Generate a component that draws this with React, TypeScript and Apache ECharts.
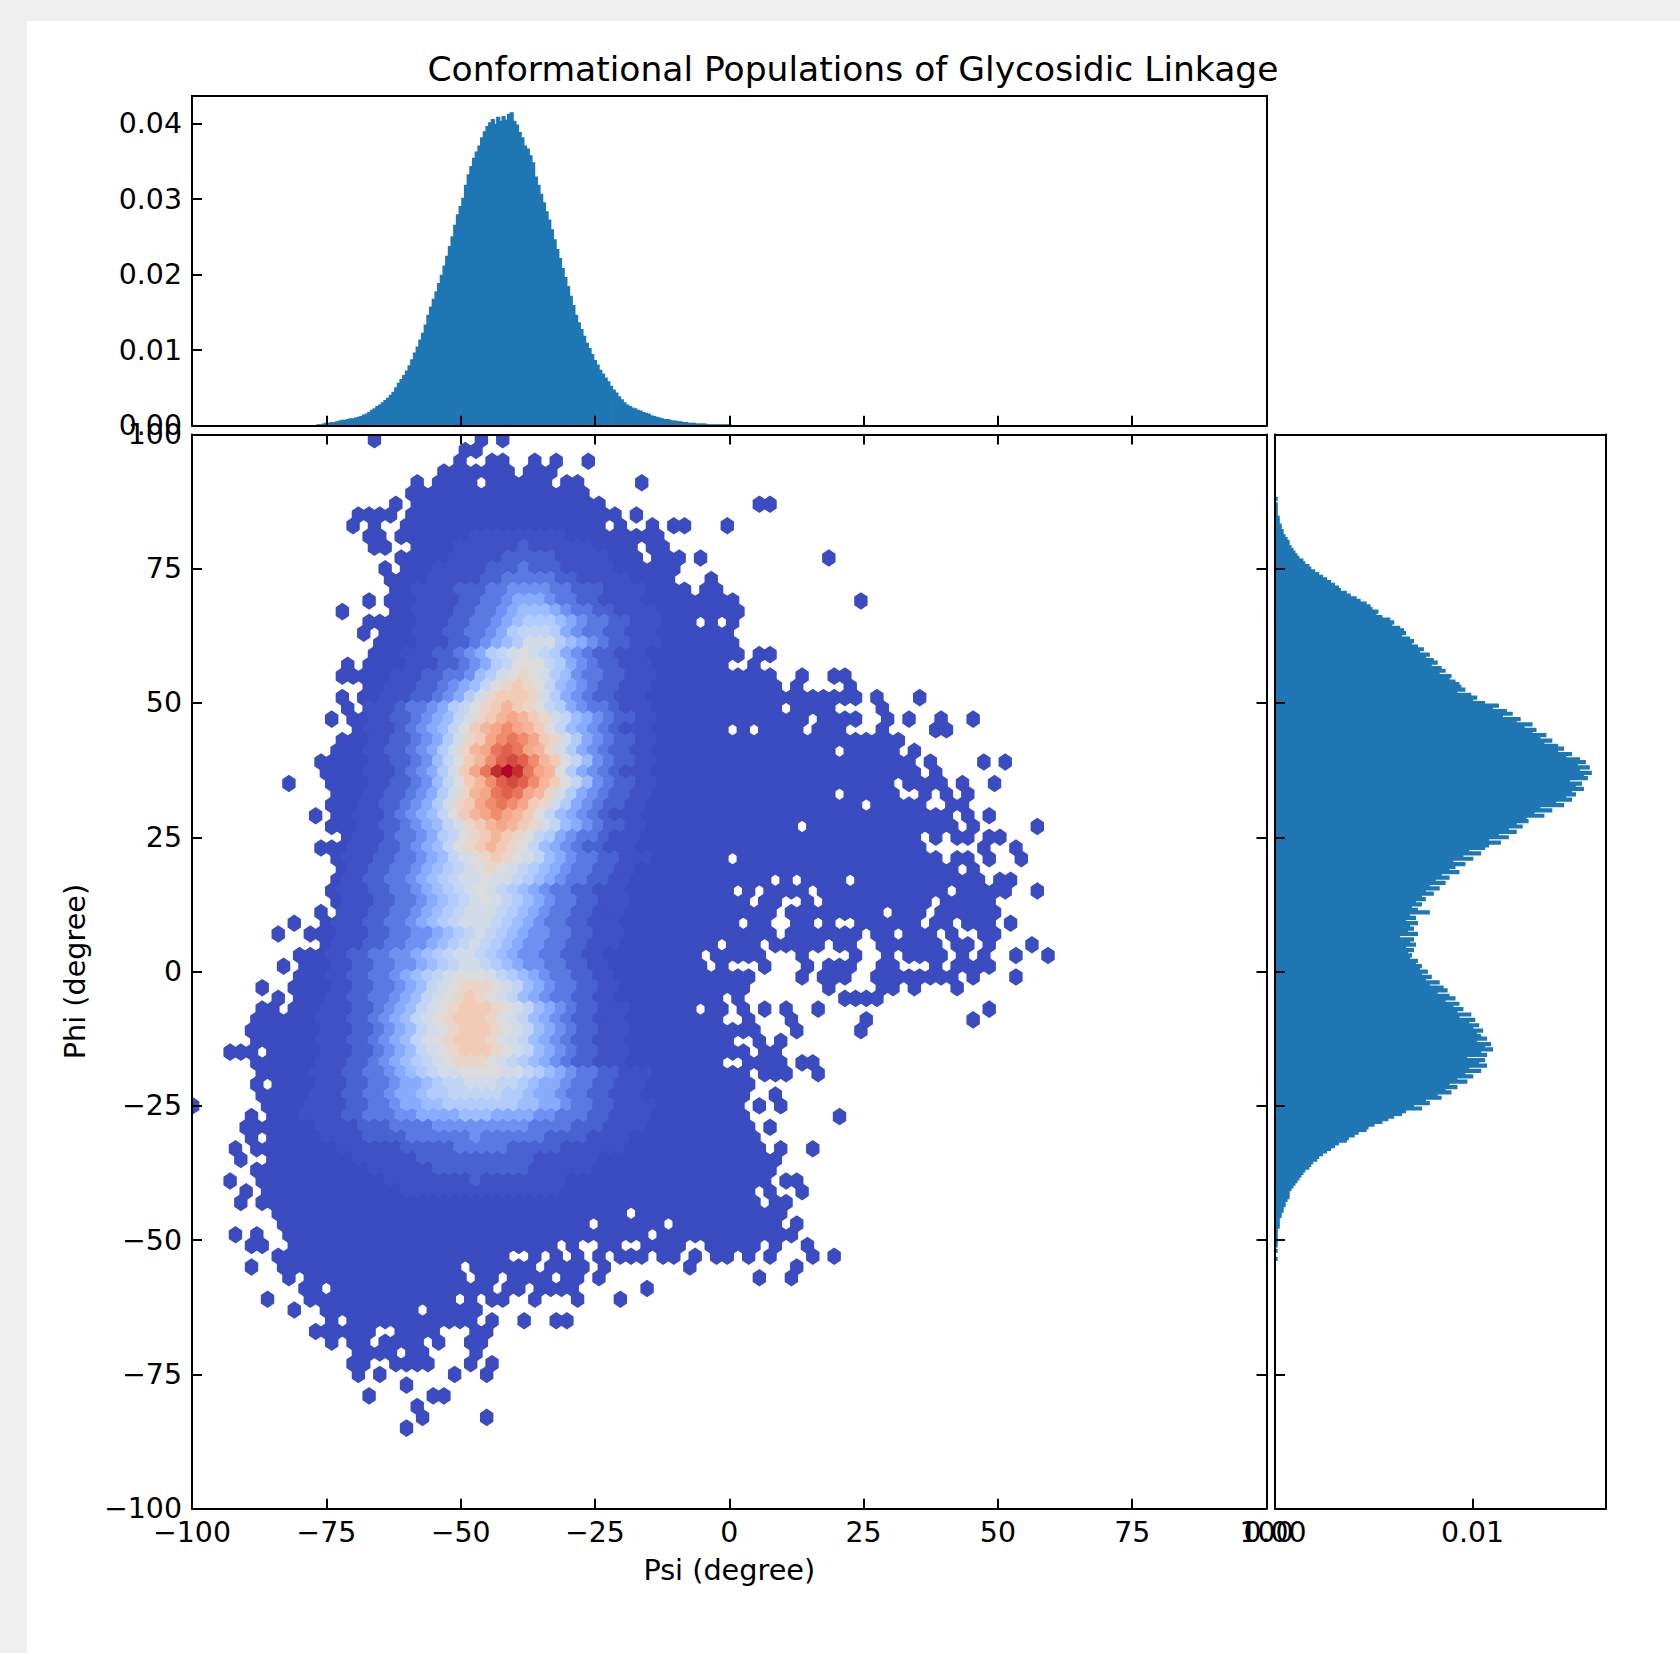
import React, { useEffect, useRef } from "react";
import * as echarts from "echarts";

const TITLE = "Conformational Populations of Glycosidic Linkage";
const FONT = "DejaVu Sans";
const BAR_COLOR = "#1f77b4";

const angleTicks = [-100, -75, -50, -25, 0, 25, 50, 75, 100];
const topHistTicks = [0, 0.01, 0.02, 0.03, 0.04];
const rightHistTicks = [0, 0.01];

// occupied hexagons: [phi row, first lattice column, last lattice column, ...], step 2 inside a span
const occupiedRows: number[][] = [
  [99, -66, -66, -46, -46, -42, -42],
  [97, -49, -47],
  [95, -50, -50, -44, -42, -36, -36, -32, -32, -26, -26],
  [93, -53, -41, -37, -33],
  [91, -58, -58, -54, -48, -44, -34, -30, -28, -16, -16],
  [89, -59, -27],
  [87, -62, -62, -58, -24, 6, 8],
  [85, -69, -63, -59, -21, -17, -17],
  [83, -70, -70, -66, -66, -60, -24, -20, -20, -14, -14, -10, -8, 0, 0],
  [81, -67, -65, -61, -13],
  [79, -66, -64, -58, -18, -14, -12],
  [77, -61, -17, -13, -9, -5, -5, 19, 19],
  [75, -64, -64, -60, -10],
  [73, -63, -11, -3, -3],
  [71, -62, -8, -4, -2],
  [69, -67, -67, -63, 1, 25, 25],
  [67, -72, -72, -62, 2],
  [65, -67, -7, -3, -3, 1, 1],
  [63, -68, -68, -64, 0],
  [61, -65, 1],
  [59, -66, 2, 6, 8],
  [57, -71, -71, -67, -1, 5, 5],
  [55, -72, 8, 14, 14, 20, 22],
  [53, -67, 9, 13, 13, 23, 23],
  [51, -72, -72, -68, 24, 28, 28, 36, 36],
  [49, -71, -71, -67, 9, 13, 19, 29, 29],
  [47, -74, -74, -70, 14, 18, 24, 30, 30, 34, 34, 40, 40, 46, 46],
  [45, -69, -1, 3, 3, 7, 13, 17, 21, 29, 29, 39, 41],
  [43, -72, 32],
  [41, -73, 19, 23, 31, 35, 35],
  [39, -76, 34, 38, 38, 48, 48, 52, 52],
  [37, -75, 35, 39, 39],
  [35, -82, -82, -74, 30, 34, 40, 44, 44, 50, 50],
  [33, -73, 19, 23, 31, 37, 37, 41, 41, 45, 45],
  [31, -74, 24, 28, 36, 42, 44],
  [29, -77, -77, -73, 41, 45, 45, 49, 49],
  [27, -74, 12, 16, 42, 46, 46, 58, 58],
  [25, -71, 35, 39, 39, 43, 45, 49, 51],
  [23, -76, 36, 48, 48, 54, 54],
  [21, -73, -1, 3, 39, 43, 45, 49, 49, 55, 55],
  [19, -72, 42, 46, 46],
  [17, -73, 7, 11, 11, 15, 21, 25, 47, 51, 53],
  [15, -74, 0, 4, 4, 8, 14, 18, 40, 44, 52, 58, 58],
  [13, -73, 3, 7, 9, 15, 15, 19, 37, 41, 49],
  [11, -76, -76, -72, 8, 12, 28, 32, 36, 40, 50],
  [9, -81, -81, -75, 1, 5, 7, 13, 15, 19, 19, 25, 35, 39, 41, 45, 49, 53, 53],
  [7, -84, -84, -78, 8, 12, 24, 28, 30, 34, 38, 42, 42, 48, 50],
  [5, -75, -3, 1, 5, 9, 17, 21, 23, 29, 39, 43, 45, 49, 49, 57, 57],
  [3, -80, -6, -2, 6, 14, 14, 24, 24, 30, 30, 34, 40, 44, 44, 48, 48, 54, 54, 60, 60],
  [1, -83, -83, -79, -5, -1, -1, 7, 7, 15, 15, 19, 23, 29, 31, 39, 39, 43, 49],
  [-1, -80, 4, 14, 14, 18, 22, 28, 42, 46, 46, 54, 54],
  [-3, -87, -87, -81, 3, 19, 19, 29, 31, 35, 35, 43, 43],
  [-5, -84, -84, -80, -2, 2, 2, 22, 28],
  [-7, -87, -85, -81, -7, -3, -1, 3, 3, 7, 7, 11, 11, 17, 17, 49, 49],
  [-9, -88, -2, 4, 4, 12, 12, 26, 26, 46, 46],
  [-11, -89, 5, 13, 13, 25, 25],
  [-13, -88, 0, 6, 6, 10, 10],
  [-15, -93, -89, -85, 3, 7, 9],
  [-17, -88, -2, 4, 10, 14, 16],
  [-19, -87, 3, 7, 11, 17, 17],
  [-21, -88, -88, -84, 4],
  [-23, -87, 3, 9, 9],
  [-25, -100, -100, -86, 2, 6, 6, 10, 10],
  [-27, -89, -89, -85, 3, 21, 21],
  [-29, -90, 4, 8, 8],
  [-31, -89, -89, -85, 5],
  [-33, -92, -92, -88, 6, 10, 10, 16, 16],
  [-35, -91, -91, -85, 9],
  [-37, -88, 8],
  [-39, -93, -93, -87, 7, 11, 13],
  [-41, -90, -90, -86, 4, 8, 8, 14, 14],
  [-43, -91, -91, -87, 5, 9, 11],
  [-45, -84, -20, -16, 10],
  [-47, -83, -27, -23, -13, -9, 9, 13, 13],
  [-49, -92, -92, -88, -88, -82, -16, -12, 12],
  [-51, -89, -87, -81, -33, -29, -29, -23, -21, -15, -9, -3, 5, 9, 9, 15, 15],
  [-53, -84, -42, -36, -36, -32, -32, -28, -28, -24, -24, -20, -16, -12, -10, -6, -6, -2, 0, 4, 4, 8, 8, 16, 16, 20, 20],
  [-55, -89, -89, -83, -51, -47, -37, -33, -27, -23, -23, -7, -7, 13, 13],
  [-57, -82, -82, -78, -50, -46, -44, -40, -34, -30, -28, -24, -24, 6, 6, 12, 12],
  [-59, -79, -77, -73, -45, -41, -39, -35, -29, -15, -15],
  [-61, -86, -86, -78, -52, -48, -48, -44, -42, -36, -36, -28, -28, -20, -20],
  [-63, -81, -81, -75, -59, -55, -47],
  [-65, -74, -74, -70, -48, -44, -44, -38, -38, -32, -30],
  [-67, -77, -67, -61, -55, -47, -45],
  [-69, -74, -74, -70, -68, -64, -58, -54, -54, -48, -46],
  [-71, -69, -63, -59, -57, -47, -47],
  [-73, -70, -68, -62, -56, -48, -48, -44, -44],
  [-75, -69, -69, -65, -65, -51, -51, -45, -45],
  [-77, -60, -60],
  [-79, -67, -67, -55, -53],
  [-81, -58, -58],
  [-83, -57, -57, -45, -45],
  [-85, -60, -60],
];

// density levels (0..k) of the brighter cells: [phi row, first lattice column, one character per cell]
const densityRows: [number, number, string][] = [
  [81, -47, "111111111"],
  [79, -50, "1111112111111"],
  [77, -51, "111112222211111"],
  [75, -54, "11111222322211111"],
  [73, -55, "1111122333332211111"],
  [71, -58, "1111222334444332221111"],
  [69, -57, "111122334555433221111"],
  [67, -58, "11112233456665433221111"],
  [65, -57, "11122334567776543322111"],
  [63, -58, "11122334578887543322111"],
  [61, -57, "11122345679997654322111"],
  [59, -60, "11122345789a98754322111"],
  [57, -59, "1112234578aaa8754322111"],
  [55, -62, "11122334679aba97643322111"],
  [53, -63, "1112234568abcba8654322111"],
  [51, -64, "1112234579bcccb9754322111"],
  [49, -67, "1112334578abcdcba8754332111"],
  [47, -66, "1122345689bcdedcb9865432211"],
  [45, -67, "111234568acdefedca865432111"],
  [43, -66, "112234579bcefgfecb975432211"],
  [41, -67, "112234579bdeghgedb975432211"],
  [39, -66, "11223468acdfhihfdca86432211"],
  [37, -67, "111234579cegjkjgeda75432111"],
  [35, -66, "11223468acdfhihfdca86432211"],
  [33, -67, "112234579bdeghgedb975432211"],
  [31, -68, "112234579bcefgfecb975432211"],
  [29, -69, "111234568acdefedca865432111"],
  [27, -68, "1122345689bcdedcb9865432211"],
  [25, -69, "1112334578abcdcba8754332111"],
  [23, -70, "1112234568abcdcba8654322111"],
  [21, -71, "111223345689abcba986543322111"],
  [19, -70, "112233456789aba987654332211"],
  [17, -71, "1122334567899a9987654332211"],
  [15, -72, "1112233456789a9876543322111"],
  [13, -71, "1112233456789a9876543322111"],
  [11, -72, "111223345678999876543322111"],
  [9, -73, "111223345678999876543322111"],
  [7, -72, "111223344567898765443322111"],
  [5, -73, "111223344567898765443322111"],
  [3, -74, "112233445678998765443322 11".replace(" ", "")],
  [1, -73, "112233445678998765443322 11".replace(" ", "")],
  [-1, -74, "112233456789aaa987654332211"],
  [-3, -73, "11223345689abbba98654332211"],
  [-5, -74, "11223345689abcba98654332211"],
  [-7, -75, "11122345689abcccba98654322111"],
  [-9, -76, "11122345689abcccba98654322111"],
  [-11, -75, "11122345689abcccba98654322111"],
  [-13, -76, "11122345689abcccba98654322111"],
  [-15, -75, "11122345689abcccba98654322111"],
  [-17, -76, "111223456789abbba987654322111"],
  [-19, -77, "11122334567899aaaa99876543322111"],
  [-21, -76, "1112233455678899988765543322111"],
  [-23, -77, "1112233455677888887765543322111"],
  [-25, -78, "111122334556677777776655433221111"],
  [-27, -79, "111122333445555666555544333221111"],
  [-29, -76, "1111222333344444444433332221111"],
  [-31, -75, "11112222333333433333322221111"],
  [-33, -72, "111111222223333322222111111"],
  [-35, -69, "11111122222222222111111"],
  [-37, -66, "111111222222222111111"],
  [-39, -63, "11111111211111111"],
  [-41, -60, "111111111111111"],
];

const levelColors = [
  "#3b4cc0", "#3f52c5", "#4962d2", "#5a79e3", "#6e91f2", "#88abfd", "#9dbdff",
  "#b2ccfb", "#c3d5f4", "#d2dbe8", "#dddcdc", "#ead5c9", "#f2cbb7", "#f5b59a",
  "#f4a688", "#f08b6e", "#e8765c", "#de614d", "#d24b40", "#c32e31", "#b40426",
];

// Psi histogram, in 1e-4 density units, bins of 0.5 degree starting at -80
const psiHistStart = -80;
const psiHistValues = [
  0, 0, 0, 0, 0, 0, 0, 1, 1, 2, 3,
  3, 4, 4, 5, 6, 7, 7, 8, 9,
  9, 10, 11, 12, 14, 15, 17, 20, 22, 25,
  27, 30, 33, 36, 40, 44, 50, 56, 61, 66,
  72, 79, 87, 96, 104, 113, 122, 133, 146, 157,
  167, 177, 188, 199, 211, 224, 237, 250, 265, 279,
  290, 301, 318, 332, 343, 354, 362, 370, 381, 389,
  396, 401, 405, 399, 408, 403, 409, 404, 412, 414,
  403, 398, 388, 381, 370, 366, 357, 348, 329, 318,
  306, 295, 283, 272, 259, 246, 233, 221, 208, 196,
  184, 171, 159, 146, 136, 127, 118, 109, 102, 94,
  86, 80, 73, 68, 63, 58, 52, 47, 43, 38,
  34, 30, 27, 25, 23, 22, 20, 19, 17, 16,
  15, 13, 12, 11, 10, 9, 8, 8, 7, 6,
  6, 5, 5, 4, 4, 3, 3, 3, 2, 2,
  2, 2, 1, 1, 1, 1, 1, 1, 1, 1,
  1, 0, 0, 0, 0,
];

// Phi histogram, in 1e-4 density units, bins of 0.5 degree going down from 88
const phiHistStart = 88;
const phiHistValues = [
  1, 0, 1, 1, 1, 1, 1, 2, 2, 2,
  3, 3, 4, 4, 5, 6, 7, 7, 8, 9,
  10, 11, 12, 14, 15, 17, 18, 20, 22, 24,
  26, 28, 30, 32, 33, 36, 38, 41, 43, 46,
  48, 49, 52, 51, 54, 58, 60, 59, 63, 65,
  66, 64, 68, 70, 69, 72, 75, 73, 78, 76,
  80, 82, 79, 84, 86, 83, 89, 88, 91, 93,
  94, 96, 92, 99, 102, 100, 106, 113, 110, 117,
  120, 115, 124, 122, 130, 126, 132, 130, 137, 134,
  140, 136, 143, 146, 143, 150, 147, 154, 157, 153,
  159, 154, 160, 156, 158, 149, 155, 152, 156, 150,
  152, 147, 150, 142, 146, 134, 140, 131, 136, 127,
  128, 122, 125, 118, 122, 113, 118, 108, 114, 108,
  106, 98, 104, 95, 100, 90, 96, 91, 88, 93,
  84, 88, 81, 86, 78, 83, 76, 80, 74, 76,
  71, 74, 69, 72, 78, 68, 71, 66, 72, 68,
  70, 67, 72, 63, 70, 68, 71, 66, 70, 67,
  69, 68, 72, 71, 74, 73, 77, 74, 79, 76,
  83, 78, 85, 87, 82, 88, 91, 86, 93, 90,
  95, 92, 99, 93, 101, 98, 103, 100, 105, 102,
  104, 107, 102, 109, 106, 110, 104, 107, 97, 106,
  103, 107, 98, 104, 96, 100, 92, 97, 88, 92,
  86, 89, 82, 84, 76, 78, 70, 74, 66, 64,
  60, 57, 54, 50, 47, 46, 42, 40, 37, 36,
  32, 30, 28, 26, 24, 22, 21, 19, 18, 17,
  15, 14, 13, 12, 11, 10, 9, 8, 7, 7,
  7, 6, 5, 5, 4, 4, 3, 3, 2, 2,
  2, 2, 1, 1, 1, 1, 1, 1, 1, 0,
  1, 0, 0, 1, 0,
];

const BIN = 0.5;
const HEX_DX = 0.995;
const LEVEL_CHARS = "0123456789abcdefghijk";

function buildHexData() {
  const levels = new Map<string, number>();
  for (const [row, start, text] of densityRows) {
    for (let i = 0; i < text.length; i++) {
      levels.set(row + ":" + (start + i * 2), LEVEL_CHARS.indexOf(text[i]));
    }
  }
  const out: number[][] = [];
  for (const entry of occupiedRows) {
    const row = entry[0];
    for (let s = 1; s < entry.length; s += 2) {
      for (let n = entry[s]; n <= entry[s + 1]; n += 2) {
        out.push([n * HEX_DX - 0.37, row, levels.get(row + ":" + n) ?? 0]);
      }
    }
  }
  return out;
}

const fmtSigned = (v: number) => (v < 0 ? "\u2212" + Math.abs(v) : String(v));
const fmt2 = (v: number) => v.toFixed(2);

const LINE = { show: true, onZero: false, lineStyle: { color: "#000", width: 2 } };
const LABEL = { color: "#000", fontSize: 28.4, fontFamily: FONT, margin: 10, hideOverlap: false, showMinLabel: true, showMaxLabel: true };
const NAME_STYLE = { color: "#000", fontSize: 28.7, fontFamily: FONT };

function axis(gridIndex: number, position: string, min: number, max: number, ticks: number[] | null, labels: boolean, fmt?: (v: number) => string, extra: any = {}) {
  return {
    type: "value",
    gridIndex,
    position,
    min,
    max,
    z: 10,
    splitLine: { show: false },
    minorTick: { show: false },
    axisLine: LINE,
    axisTick: ticks
      ? { show: true, inside: true, length: 10, lineStyle: { color: "#000", width: 2 }, customValues: ticks }
      : { show: false },
    axisLabel: labels ? { ...LABEL, formatter: fmt, customValues: ticks } : { show: false },
    ...extra,
  };
}

export default function App() {
  const ref = useRef<HTMLDivElement>(null);
  useEffect(() => {
    const chart = echarts.init(ref.current!, undefined, { renderer: "svg" });
    const hexData = buildHexData();
    const psiData = psiHistValues.map((v, i) => [psiHistStart + i * BIN, v * 1e-4]);
    const phiData = phiHistValues.map((v, i) => [v * 1e-4, phiHistStart - i * BIN]);
    chart.setOption({
      animation: false,
      backgroundColor: "transparent",
      textStyle: { fontFamily: FONT },
      title: {
        text: TITLE,
        left: 848,
        top: 46,
        textAlign: "center",
        textStyle: { fontFamily: FONT, fontSize: 34.5, fontWeight: "normal", color: "#000" },
      },
      grid: [
        { left: 192, top: 95.7, width: 1074.5, height: 330, containLabel: false },
        { left: 192, top: 434.4, width: 1074.5, height: 1074.3, containLabel: false },
        { left: 1275, top: 434.4, width: 330.7, height: 1074.3, containLabel: false },
      ],
      xAxis: [
        axis(0, "bottom", -100, 100, angleTicks, false),
        axis(0, "top", -100, 100, null, false),
        axis(1, "bottom", -100, 100, angleTicks, true, fmtSigned, {
          name: "Psi (degree)",
          nameLocation: "middle",
          nameGap: 47,
          nameTextStyle: NAME_STYLE,
        }),
        axis(1, "top", -100, 100, angleTicks, false),
        axis(2, "bottom", 0, 0.01674, rightHistTicks, true, fmt2),
        axis(2, "top", 0, 0.01674, null, false),
      ],
      yAxis: [
        axis(0, "left", 0, 0.0437, topHistTicks, true, fmt2),
        axis(0, "right", 0, 0.0437, null, false),
        axis(1, "left", -100, 100, angleTicks, true, fmtSigned, {
          name: "Phi (degree)",
          nameLocation: "middle",
          nameGap: 103,
          nameTextStyle: NAME_STYLE,
        }),
        axis(1, "right", -100, 100, angleTicks, false),
        axis(2, "left", -100, 100, angleTicks, false),
        axis(2, "right", -100, 100, null, false),
      ],
      visualMap: {
        show: false,
        seriesIndex: 0,
        dimension: 2,
        min: 0,
        max: 20,
        inRange: { color: levelColors },
      },
      series: [
        {
          type: "custom",
          name: "Hexbin",
          xAxisIndex: 2,
          yAxisIndex: 2,
          clip: true,
          progressive: 0,
          data: hexData,
          encode: { x: 0, y: 1 },
          renderItem(_p: any, api: any) {
            const x = api.value(0);
            const y = api.value(1);
            const color = api.visual("color");
            const pts = [
              [x + HEX_DX, y - 2 / 3],
              [x + HEX_DX, y + 2 / 3],
              [x, y + 4 / 3],
              [x - HEX_DX, y + 2 / 3],
              [x - HEX_DX, y - 2 / 3],
              [x, y - 4 / 3],
            ].map((p) => api.coord(p));
            return {
              type: "polygon",
              shape: { points: pts },
              style: { fill: color, stroke: color, lineWidth: 2.7, lineJoin: "miter" },
            };
          },
        },
        {
          type: "custom",
          name: "Psi",
          xAxisIndex: 0,
          yAxisIndex: 0,
          clip: true,
          progressive: 0,
          data: psiData,
          encode: { x: 0, y: 1 },
          renderItem(_p: any, api: any) {
            const x = api.value(0);
            const a = api.coord([x - BIN / 2, api.value(1)]);
            const b = api.coord([x + BIN / 2, 0]);
            return {
              type: "rect",
              shape: { x: a[0], y: a[1], width: b[0] - a[0], height: b[1] - a[1] },
              style: { fill: BAR_COLOR, stroke: BAR_COLOR, lineWidth: 1.5 },
            };
          },
        },
        {
          type: "custom",
          name: "Phi",
          xAxisIndex: 4,
          yAxisIndex: 4,
          clip: true,
          progressive: 0,
          data: phiData,
          encode: { x: 0, y: 1 },
          renderItem(_p: any, api: any) {
            const y = api.value(1);
            const a = api.coord([0, y + BIN / 2]);
            const b = api.coord([api.value(0), y - BIN / 2]);
            return {
              type: "rect",
              shape: { x: a[0], y: a[1], width: b[0] - a[0], height: b[1] - a[1] },
              style: { fill: BAR_COLOR, stroke: BAR_COLOR, lineWidth: 1.5 },
            };
          },
        },
      ],
    });
    return () => chart.dispose();
  }, []);
  return (
    <div style={{ position: "absolute", left: 0, top: 0, width: 1680, height: 1653, background: "#efefef", overflow: "hidden" }}>
      <div style={{ position: "absolute", left: 27, top: 21, width: 1653, height: 1632, background: "#fff" }} />
      <div ref={ref} style={{ position: "absolute", left: 0, top: 0, width: 1680, height: 1653 }} />
    </div>
  );
}
